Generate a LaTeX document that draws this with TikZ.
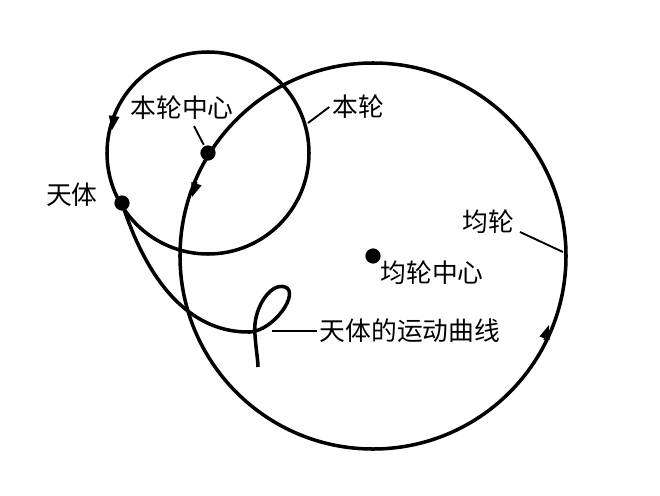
\documentclass[tikz,border=0pt]{standalone}
\usepackage{fontspec}
\newfontfamily\cjk{Noto Sans CJK SC}
\usetikzlibrary{arrows.meta}
\begin{document}
\begin{tikzpicture}[x=0.03cm,y=-0.03cm,line width=3pt,
  lbl/.style={font=\cjk\fontsize{22}{22}\selectfont,inner sep=1pt},
  dotn/.style={circle,fill=black,inner sep=0pt,minimum size=13pt},
  lead/.style={line width=1.6pt},
  tip/.style={line width=1pt,-{Triangle[length=12pt,width=9pt]}}]
\useasboundingbox (0,0) rectangle (660,496);
\coordinate (O) at (373,256);
\coordinate (E) at (208,153);
\draw (O) circle[radius=5.79cm];
\draw (E) circle[radius=3.03cm];
% arrow tips
\coordinate (a1s) at (114,117); \coordinate (a1e) at (112,130);
\coordinate (a2s) at (197,182); \coordinate (a2e) at (192,197);
\coordinate (a3s) at (544,340); \coordinate (a3e) at (549,325);
\draw[tip] (a1s) -- (a1e);
\draw[tip] (a2s) -- (a2e);
\draw[tip] (a3s) -- (a3e);
\node[dotn] (ed) at (E) {};
\node[dotn] (od) at (O) {};
\node[dotn] (p) at (122,203) {};
% motion curve
\draw (p.center) .. controls (150,290) and (195,333) .. (250,332)
  .. controls (275,330) and (300,292) .. (285,287)
  .. controls (270,282) and (252,310) .. (255,335)
  .. controls (256,350) and (258,360) .. (258,367);
% labels
\node[lbl] (l1) at (182,108) {本轮中心};
\node[lbl] (l2) at (358,107) {本轮};
\node[lbl] (l3) at (72,195) {天体};
\node[lbl] (l4) at (488,222) {均轮};
\node[lbl] (l5) at (432,273) {均轮中心};
\node[lbl] (l6) at (410,331) {天体的运动曲线};
\coordinate (k1) at (194,126);
\coordinate (k2) at (308,123);
\coordinate (k4a) at (520,232);
\coordinate (k4b) at (563,252);
\coordinate (k6) at (272,331);
\draw[lead] (k1) -- (ed);
\draw[lead] (k2) -- (l2.west);
\draw[lead] (k4a) -- (k4b);
\draw[lead] (k6) -- (l6.west);
\end{tikzpicture}
\end{document}
